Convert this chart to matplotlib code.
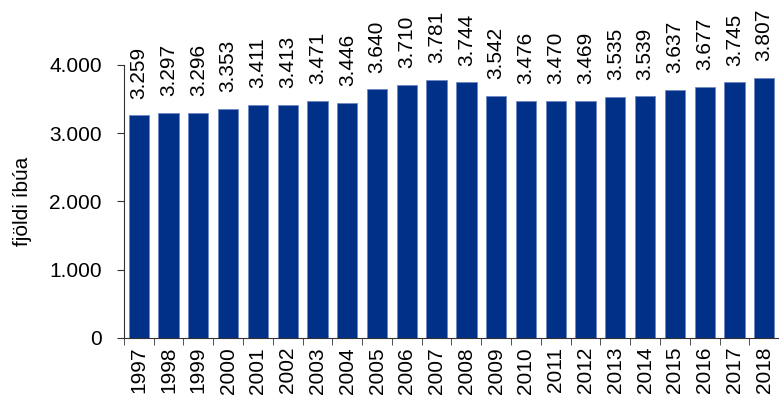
import matplotlib.pyplot as plt
import numpy as np

years = [str(y) for y in range(1997, 2019)]
residents = [3259, 3297, 3296, 3353, 3411, 3413, 3471, 3446, 3640, 3710, 3781,
             3744, 3542, 3476, 3470, 3469, 3535, 3539, 3637, 3677, 3745, 3807]

plt.rcParams['font.family'] = ['Liberation Sans', 'DejaVu Sans']

fig = plt.figure(figsize=(7.79, 3.98), dpi=100)
ax = fig.add_axes([0.159, 0.151, 0.845, 0.686])

x = np.arange(len(years))
ax.bar(x, residents, width=0.68, color='#003087', edgecolor='#7088c4', linewidth=0.6)

def fmt(v):
    return f'{v:,}'.replace(',', '.')

for xi, v in zip(x, residents):
    ax.annotate(fmt(v), (xi, v), xytext=(0, 12), textcoords='offset points',
                rotation=90, ha='center', va='bottom', fontsize=15,
                annotation_clip=False)

ax.set_xlim(-0.5, len(years) - 0.4)
ax.set_ylim(0, 4000)
ax.set_yticks([0, 1000, 2000, 3000, 4000])
ax.set_yticklabels([fmt(t) for t in [0, 1000, 2000, 3000, 4000]], fontsize=15)
ax.set_ylabel('fjöldi íbúa', fontsize=15)
ax.yaxis.set_label_coords(-0.14, 0.5)

ax.set_xticks(x)
ax.set_xticklabels(years, rotation=90, fontsize=15)
ax.tick_params(axis='x', length=0, pad=6.5)
ax.set_xticks(np.arange(-0.5, len(years) - 1, 1), minor=True)
ax.tick_params(axis='x', which='minor', length=5, direction='out', color='#333333')
ax.tick_params(axis='y', length=5, direction='out', color='#333333', pad=11)

for s in ['top', 'right']:
    ax.spines[s].set_visible(False)
for s in ['left', 'bottom']:
    ax.spines[s].set_color('#333333')

fig.savefig('out.png', dpi=100)
